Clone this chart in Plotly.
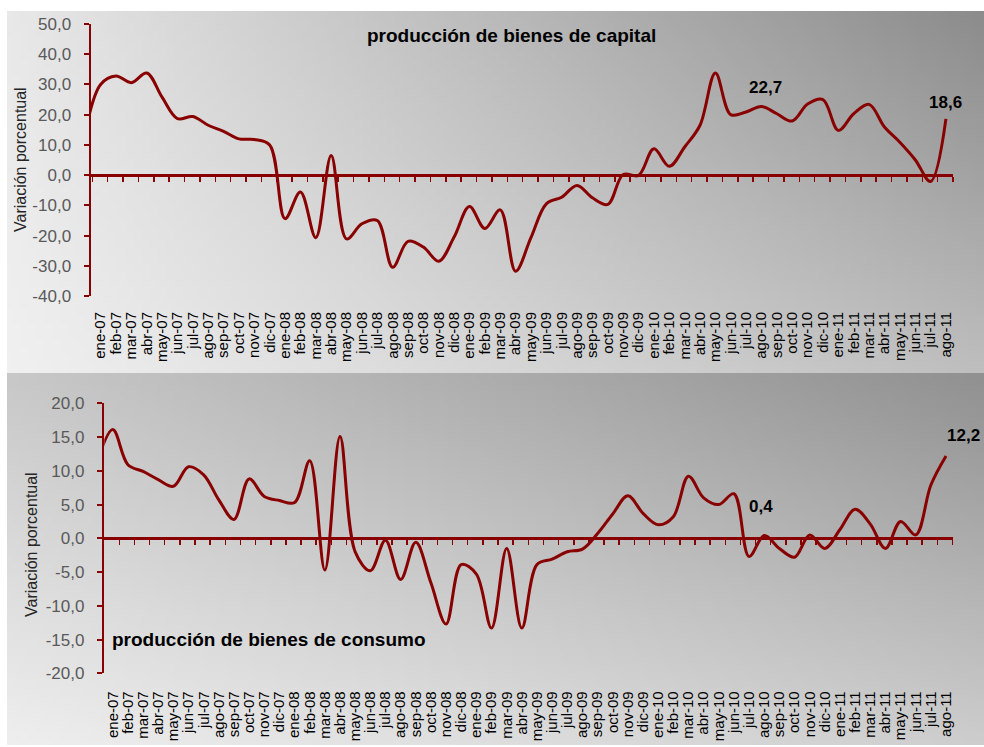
import base64
import struct
import zlib

import plotly.graph_objects as go

# ---------------- data ----------------
months = [
    "ene-07", "feb-07", "mar-07", "abr-07", "may-07", "jun-07", "jul-07", "ago-07", "sep-07", "oct-07", "nov-07", "dic-07",
    "ene-08", "feb-08", "mar-08", "abr-08", "may-08", "jun-08", "jul-08", "ago-08", "sep-08", "oct-08", "nov-08", "dic-08",
    "ene-09", "feb-09", "mar-09", "abr-09", "may-09", "jun-09", "jul-09", "ago-09", "sep-09", "oct-09", "nov-09", "dic-09",
    "ene-10", "feb-10", "mar-10", "abr-10", "may-10", "jun-10", "jul-10", "ago-10", "sep-10", "oct-10", "nov-10", "dic-10",
    "ene-11", "feb-11", "mar-11", "abr-11", "may-11", "jun-11", "jul-11", "ago-11",
]

# previous month (dic-06), only partially visible at the left edge
capital_prev = 14.0
capital = [
    30.0, 32.8, 30.6, 33.8, 25.8, 18.7, 19.4, 16.5, 14.5, 12.0, 11.8, 10.0,
    -14.4, -5.6, -20.7, 6.5, -21.1, -16.1, -15.0, -30.5, -21.9, -23.8, -28.5, -20.5,
    -10.4, -17.7, -11.5, -31.8, -20.7, -9.5, -7.3, -3.4, -7.5, -9.7, 0.2, -0.1,
    8.7, 2.9, 9.3, 16.5, 33.8, 20.0, 20.9, 22.7, 20.3, 17.9, 23.5, 25.0,
    14.8, 20.3, 23.4, 15.9, 10.9, 5.1, -2.1, 18.6,
]

consumo_prev = 11.5
consumo = [
    16.1, 10.9, 9.9, 8.7, 7.7, 10.6, 9.4, 5.7, 2.8, 8.8, 6.2, 5.6,
    5.3, 11.5, -4.7, 15.1, -2.0, -4.8, -0.3, -6.1, -0.6, -6.6, -12.7, -3.9,
    -5.3, -13.3, -1.5, -13.3, -3.9, -3.1, -2.0, -1.6, 0.7, 3.6, 6.3, 3.7,
    2.0, 3.2, 9.2, 6.0, 5.0, 6.6, -2.7, 0.4, -1.5, -2.8, 0.5, -1.5,
    1.3, 4.3, 2.1, -1.5, 2.5, 0.5, 7.9, 12.2,
]

cap_ticks = [-40, -30, -20, -10, 0, 10, 20, 30, 40, 50]
con_ticks = [-20, -15, -10, -5, 0, 5, 10, 15, 20]

cap_labels = {43: "22,7", 55: "18,6"}
con_labels = {43: "0,4", 55: "12,2"}

# ---------------- styling ----------------
W, H = 984, 747
RED = "#880000"
FONT = "Liberation Sans, Arial, sans-serif"


def fx(px):
    return px / W


def fy(py):
    return 1 - py / H


def fmt(v):
    return f"{v:.1f}".replace(".", ",")


def png_uri(w, h, tl, tr, bl, br):
    rows = b""
    for j in range(h):
        t = j / (h - 1)
        rows += b"\x00"
        for i in range(w):
            s = i / (w - 1)
            top = tl + (tr - tl) * s
            bot = bl + (br - bl) * s
            v = int(round(top + (bot - top) * t))
            rows += bytes([v, v, v])

    def chunk(tag, data):
        c = struct.pack(">I", len(data)) + tag + data
        return c + struct.pack(">I", zlib.crc32(tag + data) & 0xFFFFFFFF)

    png = b"\x89PNG\r\n\x1a\n"
    png += chunk(b"IHDR", struct.pack(">IIBBBBB", w, h, 8, 2, 0, 0, 0))
    png += chunk(b"IDAT", zlib.compress(rows, 9))
    png += chunk(b"IEND", b"")
    return "data:image/png;base64," + base64.b64encode(png).decode()


xs = list(range(-1, len(months)))

fig = go.Figure()
fig.add_trace(go.Scatter(
    x=xs, y=[capital_prev] + capital, mode="lines",
    line=dict(color=RED, width=3, shape="spline", smoothing=1),
    xaxis="x", yaxis="y", showlegend=False, hoverinfo="skip",
))
fig.add_trace(go.Scatter(
    x=xs, y=[consumo_prev] + consumo, mode="lines",
    line=dict(color=RED, width=3, shape="spline", smoothing=1),
    xaxis="x2", yaxis="y2", showlegend=False, hoverinfo="skip",
))
# empty traces to activate the zero-line axes
fig.add_trace(go.Scatter(x=[None], y=[None], xaxis="x3", yaxis="y", showlegend=False, hoverinfo="skip"))
fig.add_trace(go.Scatter(x=[None], y=[None], xaxis="x4", yaxis="y2", showlegend=False, hoverinfo="skip"))

# geometry (pixels)
top_x0, top_x1 = 91, 953
top_y_hi, top_y_lo = 24, 296      # 50 and -40
bot_x0, bot_x1 = 104.3, 953.3
bot_y_hi, bot_y_lo = 403.3, 673.3  # 20 and -20

top_range = [-0.625, 55.46]
bot_range = [-0.558, 55.48]


def cat_axis(standoff):
    return dict(
        tickmode="array", tickvals=list(range(len(months))), ticktext=months,
        tickangle=-90, tickfont=dict(family=FONT, size=15, color="#000000"),
        ticks="", showline=False, showgrid=False, zeroline=False,
        ticklabelstandoff=standoff, fixedrange=True, automargin=False,
    )


val_axis = dict(
    tickfont=dict(family=FONT, size=17, color="#595959"),
    ticks="outside", ticklen=5, tickwidth=2, tickcolor=RED,
    showline=True, linecolor=RED, linewidth=2.5,
    showgrid=False, zeroline=False, ticklabelstandoff=9, fixedrange=True,
    automargin=False,
)
zero_axis = dict(
    showline=True, linecolor=RED, linewidth=2.5,
    ticks="outside", ticklen=5, tickwidth=1.5, tickcolor=RED,
    tickmode="linear", dtick=1, showticklabels=False,
    showgrid=False, zeroline=False, anchor="free", fixedrange=True,
    automargin=False,
)

fig.update_layout(
    template="none",
    width=W, height=H,
    margin=dict(l=0, r=0, t=0, b=0, pad=0, autoexpand=False),
    paper_bgcolor="white", plot_bgcolor="rgba(0,0,0,0)",
    xaxis=dict(domain=[fx(top_x0), fx(top_x1)], range=top_range, anchor="y", **cat_axis(12)),
    yaxis=dict(domain=[fy(top_y_lo), fy(top_y_hi)], range=[-40, 50], anchor="x",
               tickmode="array", tickvals=cap_ticks, ticktext=[fmt(v) for v in cap_ticks], **val_axis),
    xaxis2=dict(domain=[fx(bot_x0), fx(bot_x1)], range=bot_range, anchor="y2", **cat_axis(14)),
    yaxis2=dict(domain=[fy(bot_y_lo), fy(bot_y_hi)], range=[-20, 20], anchor="x2",
                tickmode="array", tickvals=con_ticks, ticktext=[fmt(v) for v in con_ticks], **val_axis),
    xaxis3=dict(overlaying="x", range=top_range, tick0=0.46,
                position=fy(top_y_hi + (top_y_lo - top_y_hi) * 50 / 90), **zero_axis),
    xaxis4=dict(overlaying="x2", range=bot_range, tick0=0.43,
                position=fy(bot_y_hi + (bot_y_lo - bot_y_hi) * 20 / 40), **zero_axis),
    images=[
        dict(source=png_uri(120, 48, 232, 140, 240, 190), xref="paper", yref="paper",
             x=fx(7), y=fy(11), sizex=fx(984 - 7), sizey=(373 - 11) / H,
             xanchor="left", yanchor="top", sizing="stretch", layer="below"),
        dict(source=png_uri(120, 48, 200, 145, 238, 205), xref="paper", yref="paper",
             x=fx(7), y=fy(373), sizex=fx(984 - 7), sizey=(745 - 373) / H,
             xanchor="left", yanchor="top", sizing="stretch", layer="below"),
    ],
)

centered = dict(xref="paper", yref="paper", showarrow=False, xanchor="center", yanchor="middle")
annotations = [
    dict(text="<b>producción de bienes de capital</b>", x=fx(511), y=fy(35),
         font=dict(family=FONT, size=19, color="#000000"), **centered),
    dict(text="<b>producción de bienes de consumo</b>", x=fx(269), y=fy(639),
         font=dict(family=FONT, size=19, color="#000000"), **centered),
    dict(text="Variación porcentual", x=fx(20), y=fy(160), textangle=-90,
         font=dict(family=FONT, size=16, color="#262626"), **centered),
    dict(text="Variación porcentual", x=fx(31), y=fy(545), textangle=-90,
         font=dict(family=FONT, size=16, color="#262626"), **centered),
]
shifts_cap = {43: (4, 19), 55: (0, 16)}
shifts_con = {43: (-3, 29), 55: (17, 20)}
for i, t in cap_labels.items():
    annotations.append(dict(text=f"<b>{t}</b>", x=i, y=capital[i], xref="x", yref="y",
                            xshift=shifts_cap[i][0], yshift=shifts_cap[i][1], showarrow=False,
                            xanchor="center", yanchor="middle",
                            font=dict(family=FONT, size=17, color="#000000")))
for i, t in con_labels.items():
    annotations.append(dict(text=f"<b>{t}</b>", x=i, y=consumo[i], xref="x2", yref="y2",
                            xshift=shifts_con[i][0], yshift=shifts_con[i][1], showarrow=False,
                            xanchor="center", yanchor="middle",
                            font=dict(family=FONT, size=17, color="#000000")))
fig.update_layout(annotations=annotations)

fig.write_html("out.html", config={"displayModeBar": False, "staticPlot": True},
               post_script="document.body.style.margin='0px';")
